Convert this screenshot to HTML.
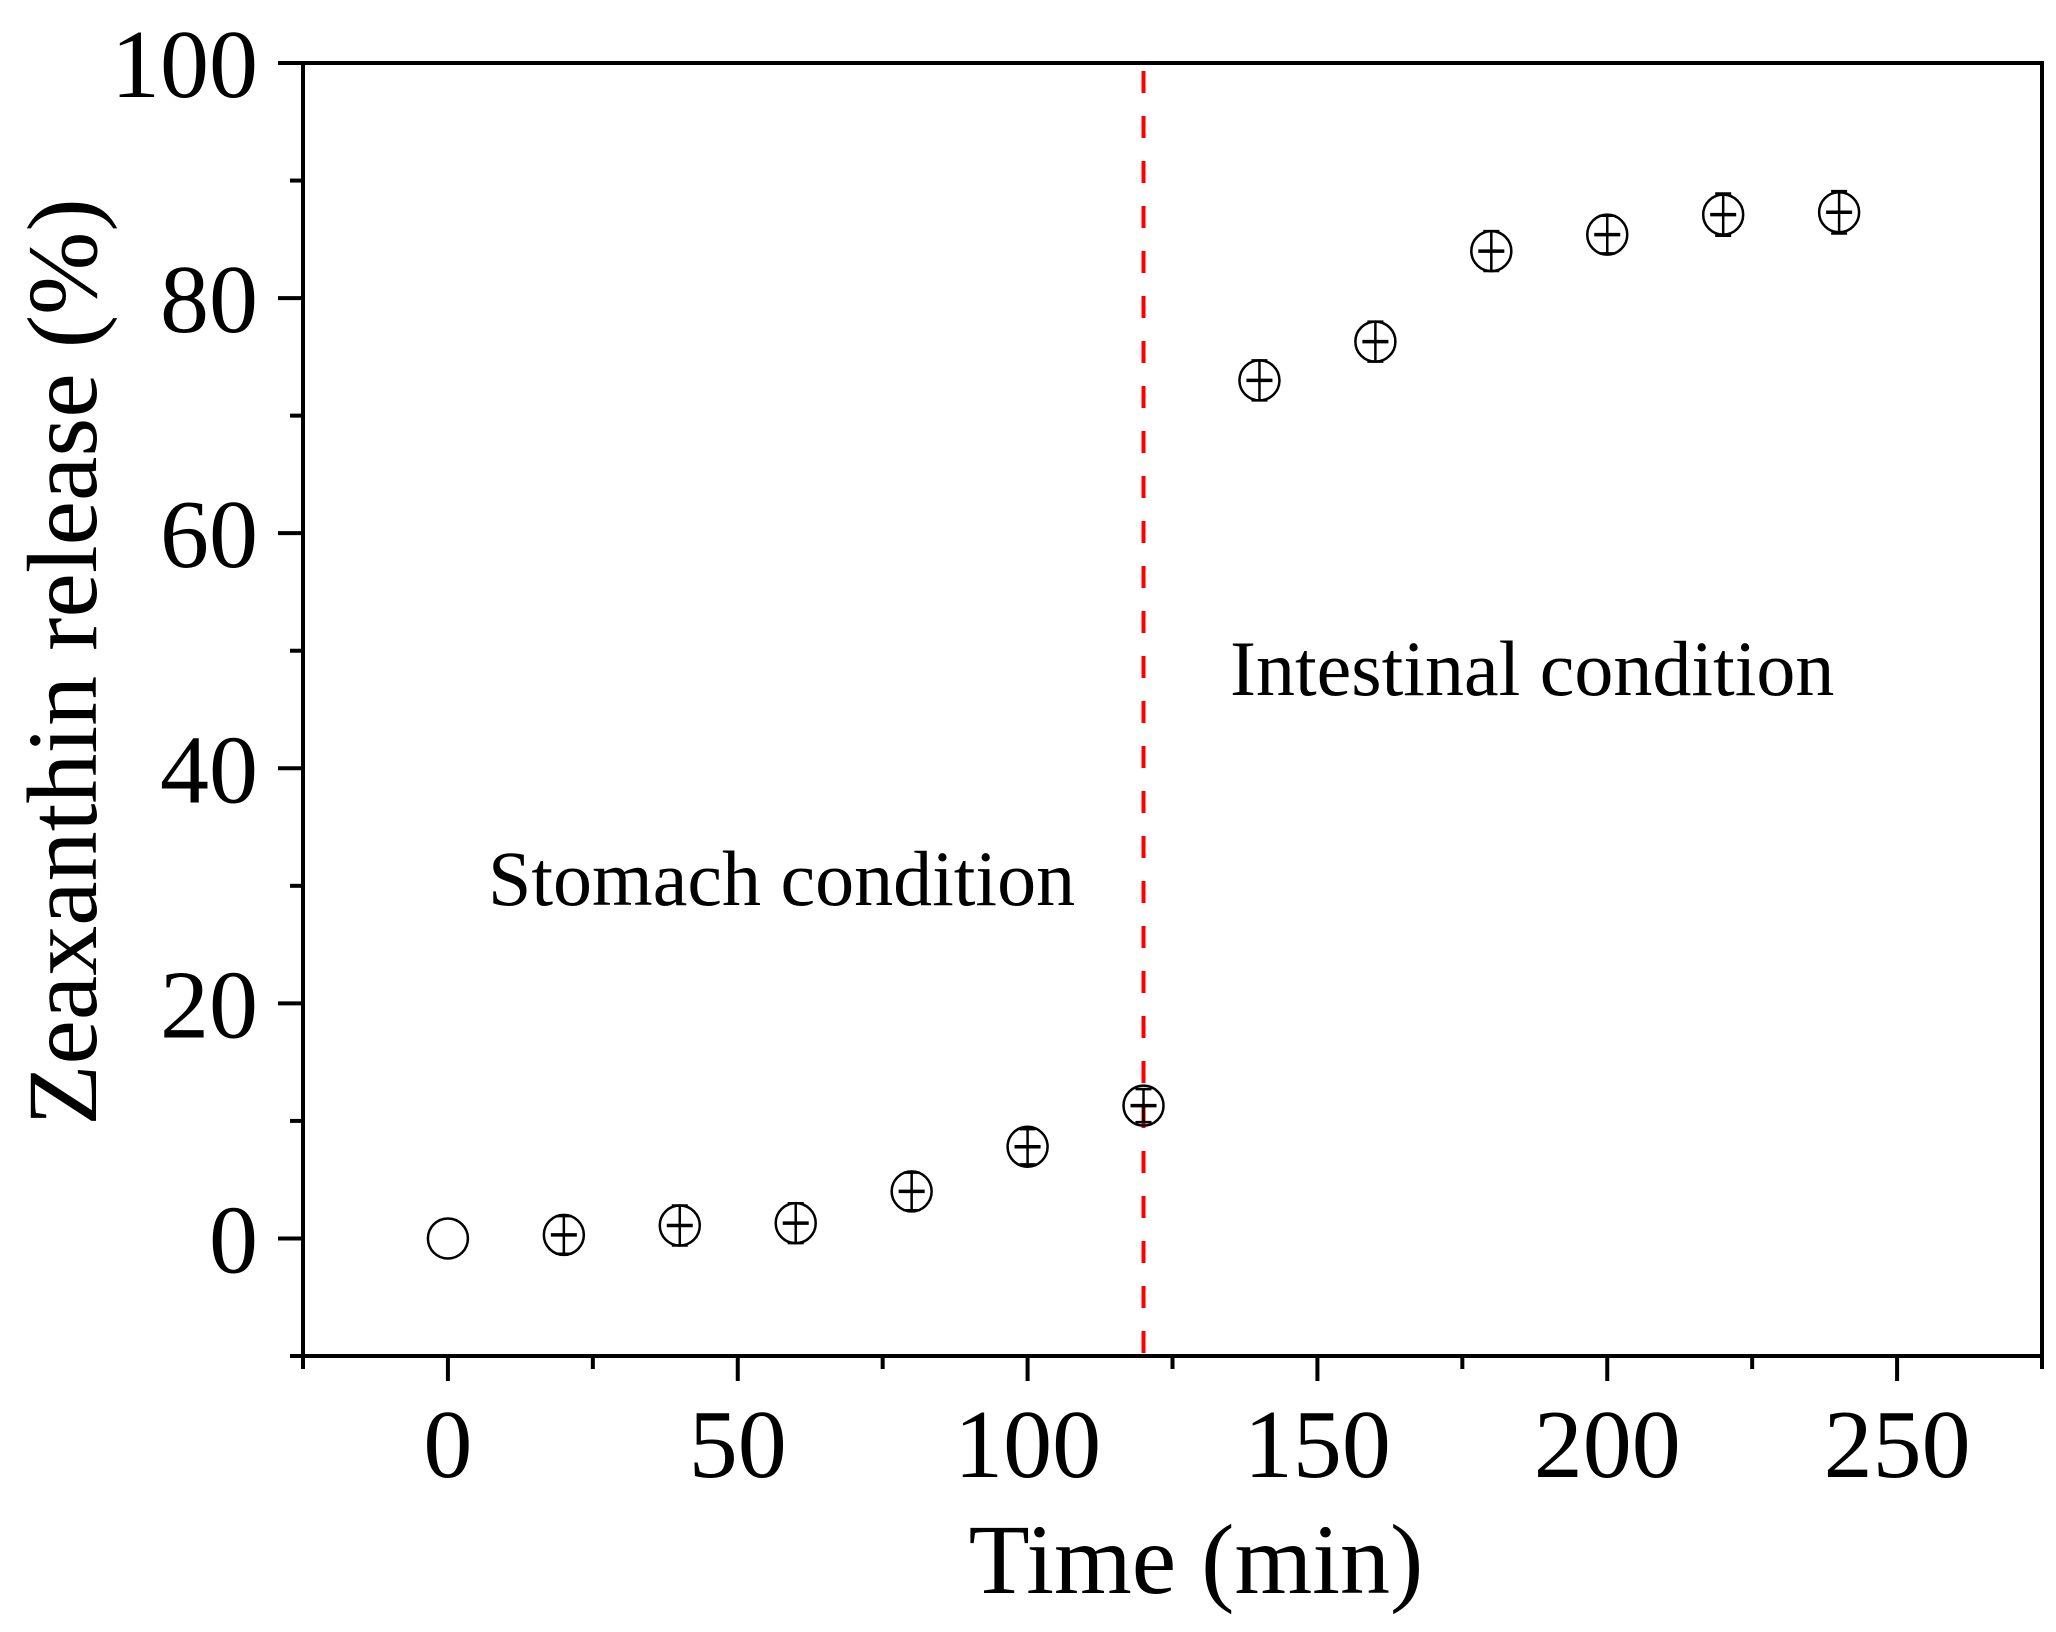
<!DOCTYPE html>
<html><head><meta charset="utf-8"><style>
html,body{margin:0;padding:0;background:#fff;}
svg{display:block;font-family:"Liberation Serif",serif;}
</style></head><body>
<svg id="chart" width="2056" height="1632" xmlns="http://www.w3.org/2000/svg">
<g id="axes"></g><g id="marks"></g>
<text x="1196" y="1593" font-size="100" text-anchor="middle">Time (min)</text>
<text transform="translate(96,662) rotate(-90)" font-size="100" text-anchor="middle">Zeaxanthin release (%)</text>
<text x="488" y="905" font-size="78">Stomach condition</text>
<text x="1230" y="695" font-size="78">Intestinal condition</text>
</svg>
<script>
const times=[0,20,40,60,80,100,120,140,160,180,200,220,240];
const release=[0,0.3,1.1,1.3,4.0,7.8,11.3,73.0,76.3,84.0,85.4,87.1,87.3];
const errors=[0,1.6,1.7,1.7,1.6,1.5,1.4,1.7,1.7,1.7,1.6,1.8,1.8];
const xTicks=[0,50,100,150,200,250];
const yTicks=[0,20,40,60,80,100];
const phaseBoundary=120;
const L=303,R=2042,T=63,B=1356;
const xMin=-25,xMax=275,yMin=-10,yMax=100;
const X=v=>L+(v-xMin)/(xMax-xMin)*(R-L);
const Y=v=>B-(v-yMin)/(yMax-yMin)*(B-T);
const NS="http://www.w3.org/2000/svg";
function mk(tag,attrs,parent){const e=document.createElementNS(NS,tag);for(const k in attrs)e.setAttribute(k,attrs[k]);parent.appendChild(e);return e;}
const ax=document.getElementById('axes'),mg=document.getElementById('marks');
const frame=mk('rect',{x:L,y:T,width:R-L,height:B-T,fill:'none',stroke:'#000','stroke-width':4},ax);


for(let v=-25;v<=275;v+=25){
 const major=v%50===0;
 const t=mk('line',{x1:X(v),x2:X(v),y1:B,y2:B+(major?25:13),stroke:'#000','stroke-width':4},ax);
 
 
}
xTicks.forEach(v=>{const t=mk('text',{x:X(v),y:1477,'font-size':98,'text-anchor':'middle'},ax);t.textContent=v;
 
 });
for(let v=-10;v<=100;v+=10){
 const major=v%20===0;
 const t=mk('line',{x1:L,x2:L-(major?25:13),y1:Y(v),y2:Y(v),stroke:'#000','stroke-width':4},ax);
 
 
}
yTicks.forEach(v=>{const t=mk('text',{x:258,y:Y(v)+34,'font-size':98,'text-anchor':'end'},ax);t.textContent=v;
 
 });
const dl=mk('line',{x1:X(phaseBoundary),x2:X(phaseBoundary),y1:T+8,y2:B,stroke:'#ff0000','stroke-width':4,'stroke-dasharray':'22 23'},ax);


times.forEach((t,i)=>{
 const cx=X(t),cy=Y(release[i]),e=errors[i];
 const g=mk('g',{},mg);
 
 
 mk('circle',{cx:cx,cy:cy,r:20,fill:'none',stroke:'#000','stroke-width':2.5},g);
 if(e>0){
  const y1=Y(release[i]+e),y2=Y(release[i]-e);
  mk('line',{x1:cx,x2:cx,y1:y1,y2:y2,stroke:'#000','stroke-width':2.5},g);
  mk('line',{x1:cx-8,x2:cx+8,y1:y1,y2:y1,stroke:'#000','stroke-width':2.5},g);
  mk('line',{x1:cx-8,x2:cx+8,y1:y2,y2:y2,stroke:'#000','stroke-width':2.5},g);
  mk('line',{x1:cx-13,x2:cx+13,y1:cy,y2:cy,stroke:'#000','stroke-width':3.5},g);
 }
});
</script>
</body></html>
